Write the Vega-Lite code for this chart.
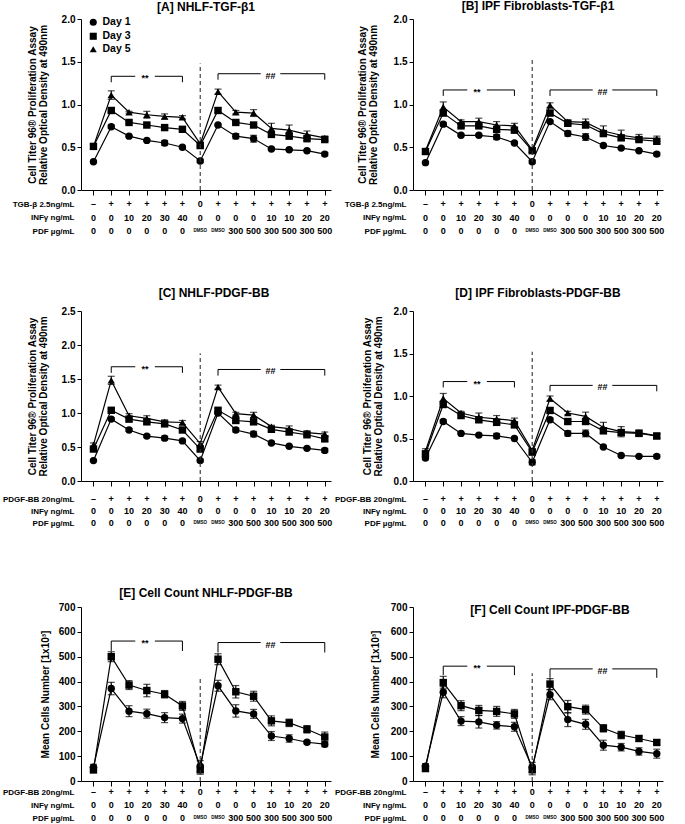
{
"$schema":"https://vega.github.io/schema/vega-lite/v6.json",
"background":"white",
"padding":{"left":2,"top":0,"right":0,"bottom":0},
"columns":2,
"bounds":"flush",
"spacing":{"row":0,"column":82},
"datasets":{
"pts":[
{"p":"A","d":"Day 1","x":1,"v":0.33,"e":0.01},{"p":"A","d":"Day 1","x":2,"v":0.74,"e":0.02},{"p":"A","d":"Day 1","x":3,"v":0.63,"e":0.01},{"p":"A","d":"Day 1","x":4,"v":0.58,"e":0.01},{"p":"A","d":"Day 1","x":5,"v":0.55,"e":0.03},{"p":"A","d":"Day 1","x":6,"v":0.50,"e":0.01},{"p":"A","d":"Day 1","x":7,"v":0.34,"e":0.02},{"p":"A","d":"Day 1","x":8,"v":0.76,"e":0.01},{"p":"A","d":"Day 1","x":9,"v":0.63,"e":0.03},{"p":"A","d":"Day 1","x":10,"v":0.60,"e":0.04},{"p":"A","d":"Day 1","x":11,"v":0.48,"e":0.01},{"p":"A","d":"Day 1","x":12,"v":0.47,"e":0.01},{"p":"A","d":"Day 1","x":13,"v":0.46,"e":0.01},{"p":"A","d":"Day 1","x":14,"v":0.42,"e":0.02},
{"p":"A","d":"Day 3","x":1,"v":0.51,"e":0.02},{"p":"A","d":"Day 3","x":2,"v":0.93,"e":0.02},{"p":"A","d":"Day 3","x":3,"v":0.79,"e":0.01},{"p":"A","d":"Day 3","x":4,"v":0.76,"e":0.01},{"p":"A","d":"Day 3","x":5,"v":0.73,"e":0.02},{"p":"A","d":"Day 3","x":6,"v":0.71,"e":0.02},{"p":"A","d":"Day 3","x":7,"v":0.52,"e":0.03},{"p":"A","d":"Day 3","x":8,"v":0.93,"e":0.03},{"p":"A","d":"Day 3","x":9,"v":0.79,"e":0.01},{"p":"A","d":"Day 3","x":10,"v":0.76,"e":0.02},{"p":"A","d":"Day 3","x":11,"v":0.65,"e":0.02},{"p":"A","d":"Day 3","x":12,"v":0.63,"e":0.03},{"p":"A","d":"Day 3","x":13,"v":0.60,"e":0.02},{"p":"A","d":"Day 3","x":14,"v":0.59,"e":0.02},
{"p":"A","d":"Day 5","x":1,"v":0.51,"e":0.02},{"p":"A","d":"Day 5","x":2,"v":1.11,"e":0.05},{"p":"A","d":"Day 5","x":3,"v":0.91,"e":0.01},{"p":"A","d":"Day 5","x":4,"v":0.88,"e":0.04},{"p":"A","d":"Day 5","x":5,"v":0.86,"e":0.03},{"p":"A","d":"Day 5","x":6,"v":0.85,"e":0.02},{"p":"A","d":"Day 5","x":7,"v":0.54,"e":0.02},{"p":"A","d":"Day 5","x":8,"v":1.15,"e":0.03},{"p":"A","d":"Day 5","x":9,"v":0.91,"e":0.02},{"p":"A","d":"Day 5","x":10,"v":0.90,"e":0.04},{"p":"A","d":"Day 5","x":11,"v":0.72,"e":0.06},{"p":"A","d":"Day 5","x":12,"v":0.70,"e":0.06},{"p":"A","d":"Day 5","x":13,"v":0.65,"e":0.04},{"p":"A","d":"Day 5","x":14,"v":0.61,"e":0.02},
{"p":"B","d":"Day 1","x":1,"v":0.32,"e":0.01},{"p":"B","d":"Day 1","x":2,"v":0.77,"e":0.02},{"p":"B","d":"Day 1","x":3,"v":0.64,"e":0.01},{"p":"B","d":"Day 1","x":4,"v":0.64,"e":0.01},{"p":"B","d":"Day 1","x":5,"v":0.62,"e":0.03},{"p":"B","d":"Day 1","x":6,"v":0.55,"e":0.01},{"p":"B","d":"Day 1","x":7,"v":0.33,"e":0.02},{"p":"B","d":"Day 1","x":8,"v":0.80,"e":0.01},{"p":"B","d":"Day 1","x":9,"v":0.66,"e":0.03},{"p":"B","d":"Day 1","x":10,"v":0.62,"e":0.04},{"p":"B","d":"Day 1","x":11,"v":0.52,"e":0.01},{"p":"B","d":"Day 1","x":12,"v":0.49,"e":0.01},{"p":"B","d":"Day 1","x":13,"v":0.46,"e":0.01},{"p":"B","d":"Day 1","x":14,"v":0.42,"e":0.02},
{"p":"B","d":"Day 3","x":1,"v":0.45,"e":0.02},{"p":"B","d":"Day 3","x":2,"v":0.90,"e":0.03},{"p":"B","d":"Day 3","x":3,"v":0.75,"e":0.02},{"p":"B","d":"Day 3","x":4,"v":0.75,"e":0.02},{"p":"B","d":"Day 3","x":5,"v":0.71,"e":0.03},{"p":"B","d":"Day 3","x":6,"v":0.70,"e":0.03},{"p":"B","d":"Day 3","x":7,"v":0.46,"e":0.02},{"p":"B","d":"Day 3","x":8,"v":0.90,"e":0.03},{"p":"B","d":"Day 3","x":9,"v":0.78,"e":0.02},{"p":"B","d":"Day 3","x":10,"v":0.76,"e":0.03},{"p":"B","d":"Day 3","x":11,"v":0.66,"e":0.02},{"p":"B","d":"Day 3","x":12,"v":0.61,"e":0.02},{"p":"B","d":"Day 3","x":13,"v":0.59,"e":0.02},{"p":"B","d":"Day 3","x":14,"v":0.57,"e":0.03},
{"p":"B","d":"Day 5","x":1,"v":0.46,"e":0.02},{"p":"B","d":"Day 5","x":2,"v":0.97,"e":0.06},{"p":"B","d":"Day 5","x":3,"v":0.80,"e":0.02},{"p":"B","d":"Day 5","x":4,"v":0.80,"e":0.04},{"p":"B","d":"Day 5","x":5,"v":0.76,"e":0.04},{"p":"B","d":"Day 5","x":6,"v":0.75,"e":0.03},{"p":"B","d":"Day 5","x":7,"v":0.47,"e":0.02},{"p":"B","d":"Day 5","x":8,"v":0.99,"e":0.03},{"p":"B","d":"Day 5","x":9,"v":0.80,"e":0.02},{"p":"B","d":"Day 5","x":10,"v":0.79,"e":0.04},{"p":"B","d":"Day 5","x":11,"v":0.69,"e":0.06},{"p":"B","d":"Day 5","x":12,"v":0.64,"e":0.06},{"p":"B","d":"Day 5","x":13,"v":0.61,"e":0.04},{"p":"B","d":"Day 5","x":14,"v":0.60,"e":0.03},
{"p":"C","d":"Day 1","x":1,"v":0.30,"e":0.01},{"p":"C","d":"Day 1","x":2,"v":0.91,"e":0.02},{"p":"C","d":"Day 1","x":3,"v":0.75,"e":0.02},{"p":"C","d":"Day 1","x":4,"v":0.66,"e":0.02},{"p":"C","d":"Day 1","x":5,"v":0.63,"e":0.03},{"p":"C","d":"Day 1","x":6,"v":0.59,"e":0.02},{"p":"C","d":"Day 1","x":7,"v":0.30,"e":0.02},{"p":"C","d":"Day 1","x":8,"v":1.00,"e":0.02},{"p":"C","d":"Day 1","x":9,"v":0.75,"e":0.03},{"p":"C","d":"Day 1","x":10,"v":0.69,"e":0.04},{"p":"C","d":"Day 1","x":11,"v":0.56,"e":0.02},{"p":"C","d":"Day 1","x":12,"v":0.51,"e":0.01},{"p":"C","d":"Day 1","x":13,"v":0.48,"e":0.01},{"p":"C","d":"Day 1","x":14,"v":0.45,"e":0.03},
{"p":"C","d":"Day 3","x":1,"v":0.47,"e":0.03},{"p":"C","d":"Day 3","x":2,"v":1.04,"e":0.02},{"p":"C","d":"Day 3","x":3,"v":0.91,"e":0.03},{"p":"C","d":"Day 3","x":4,"v":0.87,"e":0.03},{"p":"C","d":"Day 3","x":5,"v":0.84,"e":0.03},{"p":"C","d":"Day 3","x":6,"v":0.75,"e":0.03},{"p":"C","d":"Day 3","x":7,"v":0.47,"e":0.03},{"p":"C","d":"Day 3","x":8,"v":1.04,"e":0.03},{"p":"C","d":"Day 3","x":9,"v":0.89,"e":0.03},{"p":"C","d":"Day 3","x":10,"v":0.87,"e":0.03},{"p":"C","d":"Day 3","x":11,"v":0.76,"e":0.03},{"p":"C","d":"Day 3","x":12,"v":0.72,"e":0.03},{"p":"C","d":"Day 3","x":13,"v":0.68,"e":0.03},{"p":"C","d":"Day 3","x":14,"v":0.62,"e":0.04},
{"p":"C","d":"Day 5","x":1,"v":0.53,"e":0.03},{"p":"C","d":"Day 5","x":2,"v":1.48,"e":0.06},{"p":"C","d":"Day 5","x":3,"v":0.96,"e":0.03},{"p":"C","d":"Day 5","x":4,"v":0.92,"e":0.04},{"p":"C","d":"Day 5","x":5,"v":0.87,"e":0.03},{"p":"C","d":"Day 5","x":6,"v":0.86,"e":0.03},{"p":"C","d":"Day 5","x":7,"v":0.55,"e":0.03},{"p":"C","d":"Day 5","x":8,"v":1.38,"e":0.03},{"p":"C","d":"Day 5","x":9,"v":0.99,"e":0.02},{"p":"C","d":"Day 5","x":10,"v":0.97,"e":0.04},{"p":"C","d":"Day 5","x":11,"v":0.80,"e":0.02},{"p":"C","d":"Day 5","x":12,"v":0.77,"e":0.04},{"p":"C","d":"Day 5","x":13,"v":0.71,"e":0.03},{"p":"C","d":"Day 5","x":14,"v":0.69,"e":0.03},
{"p":"D","d":"Day 1","x":1,"v":0.27,"e":0.02},{"p":"D","d":"Day 1","x":2,"v":0.70,"e":0.02},{"p":"D","d":"Day 1","x":3,"v":0.56,"e":0.01},{"p":"D","d":"Day 1","x":4,"v":0.54,"e":0.01},{"p":"D","d":"Day 1","x":5,"v":0.53,"e":0.03},{"p":"D","d":"Day 1","x":6,"v":0.50,"e":0.01},{"p":"D","d":"Day 1","x":7,"v":0.22,"e":0.03},{"p":"D","d":"Day 1","x":8,"v":0.72,"e":0.02},{"p":"D","d":"Day 1","x":9,"v":0.56,"e":0.03},{"p":"D","d":"Day 1","x":10,"v":0.56,"e":0.04},{"p":"D","d":"Day 1","x":11,"v":0.40,"e":0.01},{"p":"D","d":"Day 1","x":12,"v":0.30,"e":0.01},{"p":"D","d":"Day 1","x":13,"v":0.29,"e":0.01},{"p":"D","d":"Day 1","x":14,"v":0.29,"e":0.02},
{"p":"D","d":"Day 3","x":1,"v":0.32,"e":0.02},{"p":"D","d":"Day 3","x":2,"v":0.90,"e":0.03},{"p":"D","d":"Day 3","x":3,"v":0.77,"e":0.03},{"p":"D","d":"Day 3","x":4,"v":0.72,"e":0.03},{"p":"D","d":"Day 3","x":5,"v":0.69,"e":0.03},{"p":"D","d":"Day 3","x":6,"v":0.66,"e":0.03},{"p":"D","d":"Day 3","x":7,"v":0.34,"e":0.03},{"p":"D","d":"Day 3","x":8,"v":0.83,"e":0.03},{"p":"D","d":"Day 3","x":9,"v":0.70,"e":0.02},{"p":"D","d":"Day 3","x":10,"v":0.70,"e":0.03},{"p":"D","d":"Day 3","x":11,"v":0.59,"e":0.03},{"p":"D","d":"Day 3","x":12,"v":0.57,"e":0.03},{"p":"D","d":"Day 3","x":13,"v":0.56,"e":0.03},{"p":"D","d":"Day 3","x":14,"v":0.53,"e":0.03},
{"p":"D","d":"Day 5","x":1,"v":0.35,"e":0.03},{"p":"D","d":"Day 5","x":2,"v":0.97,"e":0.06},{"p":"D","d":"Day 5","x":3,"v":0.80,"e":0.02},{"p":"D","d":"Day 5","x":4,"v":0.75,"e":0.05},{"p":"D","d":"Day 5","x":5,"v":0.73,"e":0.04},{"p":"D","d":"Day 5","x":6,"v":0.71,"e":0.03},{"p":"D","d":"Day 5","x":7,"v":0.36,"e":0.02},{"p":"D","d":"Day 5","x":8,"v":0.97,"e":0.03},{"p":"D","d":"Day 5","x":9,"v":0.80,"e":0.02},{"p":"D","d":"Day 5","x":10,"v":0.76,"e":0.05},{"p":"D","d":"Day 5","x":11,"v":0.63,"e":0.06},{"p":"D","d":"Day 5","x":12,"v":0.58,"e":0.06},{"p":"D","d":"Day 5","x":13,"v":0.57,"e":0.03},{"p":"D","d":"Day 5","x":14,"v":0.53,"e":0.02},
{"p":"E","d":"Day 1","x":1,"v":55,"e":12},{"p":"E","d":"Day 1","x":2,"v":372,"e":25},{"p":"E","d":"Day 1","x":3,"v":281,"e":22},{"p":"E","d":"Day 1","x":4,"v":271,"e":18},{"p":"E","d":"Day 1","x":5,"v":255,"e":20},{"p":"E","d":"Day 1","x":6,"v":251,"e":18},{"p":"E","d":"Day 1","x":7,"v":60,"e":22},{"p":"E","d":"Day 1","x":8,"v":383,"e":22},{"p":"E","d":"Day 1","x":9,"v":282,"e":25},{"p":"E","d":"Day 1","x":10,"v":270,"e":18},{"p":"E","d":"Day 1","x":11,"v":181,"e":18},{"p":"E","d":"Day 1","x":12,"v":171,"e":15},{"p":"E","d":"Day 1","x":13,"v":156,"e":6},{"p":"E","d":"Day 1","x":14,"v":148,"e":10},
{"p":"E","d":"Day 3","x":1,"v":45,"e":12},{"p":"E","d":"Day 3","x":2,"v":500,"e":20},{"p":"E","d":"Day 3","x":3,"v":386,"e":18},{"p":"E","d":"Day 3","x":4,"v":364,"e":25},{"p":"E","d":"Day 3","x":5,"v":349,"e":15},{"p":"E","d":"Day 3","x":6,"v":302,"e":18},{"p":"E","d":"Day 3","x":7,"v":45,"e":18},{"p":"E","d":"Day 3","x":8,"v":490,"e":22},{"p":"E","d":"Day 3","x":9,"v":359,"e":25},{"p":"E","d":"Day 3","x":10,"v":341,"e":20},{"p":"E","d":"Day 3","x":11,"v":242,"e":20},{"p":"E","d":"Day 3","x":12,"v":234,"e":15},{"p":"E","d":"Day 3","x":13,"v":208,"e":15},{"p":"E","d":"Day 3","x":14,"v":177,"e":20},
{"p":"F","d":"Day 1","x":1,"v":60,"e":10},{"p":"F","d":"Day 1","x":2,"v":357,"e":22},{"p":"F","d":"Day 1","x":3,"v":241,"e":18},{"p":"F","d":"Day 1","x":4,"v":238,"e":25},{"p":"F","d":"Day 1","x":5,"v":224,"e":15},{"p":"F","d":"Day 1","x":6,"v":218,"e":18},{"p":"F","d":"Day 1","x":7,"v":55,"e":20},{"p":"F","d":"Day 1","x":8,"v":347,"e":20},{"p":"F","d":"Day 1","x":9,"v":247,"e":28},{"p":"F","d":"Day 1","x":10,"v":228,"e":20},{"p":"F","d":"Day 1","x":11,"v":144,"e":20},{"p":"F","d":"Day 1","x":12,"v":136,"e":15},{"p":"F","d":"Day 1","x":13,"v":119,"e":15},{"p":"F","d":"Day 1","x":14,"v":110,"e":18},
{"p":"F","d":"Day 3","x":1,"v":50,"e":10},{"p":"F","d":"Day 3","x":2,"v":396,"e":25},{"p":"F","d":"Day 3","x":3,"v":303,"e":20},{"p":"F","d":"Day 3","x":4,"v":284,"e":20},{"p":"F","d":"Day 3","x":5,"v":280,"e":20},{"p":"F","d":"Day 3","x":6,"v":270,"e":18},{"p":"F","d":"Day 3","x":7,"v":45,"e":20},{"p":"F","d":"Day 3","x":8,"v":390,"e":22},{"p":"F","d":"Day 3","x":9,"v":299,"e":25},{"p":"F","d":"Day 3","x":10,"v":287,"e":18},{"p":"F","d":"Day 3","x":11,"v":212,"e":15},{"p":"F","d":"Day 3","x":12,"v":185,"e":15},{"p":"F","d":"Day 3","x":13,"v":171,"e":10},{"p":"F","d":"Day 3","x":14,"v":155,"e":10}
],
"vl":[{"p":"A","x":7,"v":0,"v2":1.48},{"p":"B","x":7,"v":0,"v2":1.54},{"p":"C","x":7,"v":0,"v2":1.88},{"p":"D","x":7,"v":0,"v2":1.52},{"p":"E","x":7,"v":0,"v2":412},{"p":"F","x":7,"v":0,"v2":433}],
"brh":[
{"p":"A","x":2,"x2":3.35,"v":1.33},{"p":"A","x":4.45,"x2":6,"v":1.33},{"p":"A","x":8,"x2":10.4,"v":1.36},{"p":"A","x":11.5,"x2":14,"v":1.36},
{"p":"B","x":2,"x2":3.35,"v":1.17},{"p":"B","x":4.45,"x2":6,"v":1.17},{"p":"B","x":8,"x2":10.4,"v":1.17},{"p":"B","x":11.5,"x2":14,"v":1.17},
{"p":"C","x":2,"x2":3.35,"v":1.68},{"p":"C","x":4.45,"x2":6,"v":1.68},{"p":"C","x":8,"x2":10.4,"v":1.64},{"p":"C","x":11.5,"x2":14,"v":1.64},
{"p":"D","x":2,"x2":3.35,"v":1.17},{"p":"D","x":4.45,"x2":6,"v":1.17},{"p":"D","x":8,"x2":10.4,"v":1.125},{"p":"D","x":11.5,"x2":14,"v":1.125},
{"p":"E","x":2,"x2":3.35,"v":563},{"p":"E","x":4.45,"x2":6,"v":563},{"p":"E","x":8,"x2":10.4,"v":557},{"p":"E","x":11.5,"x2":14,"v":557},
{"p":"F","x":2,"x2":3.35,"v":462},{"p":"F","x":4.45,"x2":6,"v":462},{"p":"F","x":8,"x2":10.4,"v":451},{"p":"F","x":11.5,"x2":14,"v":451}
],
"brt":[
{"p":"A","x":2,"v":1.33,"v2":1.26},{"p":"A","x":6,"v":1.33,"v2":1.26},{"p":"A","x":8,"v":1.36,"v2":1.29},{"p":"A","x":14,"v":1.36,"v2":1.29},
{"p":"B","x":2,"v":1.17,"v2":1.10},{"p":"B","x":6,"v":1.17,"v2":1.10},{"p":"B","x":8,"v":1.17,"v2":1.10},{"p":"B","x":14,"v":1.17,"v2":1.10},
{"p":"C","x":2,"v":1.68,"v2":1.59},{"p":"C","x":6,"v":1.68,"v2":1.59},{"p":"C","x":8,"v":1.64,"v2":1.55},{"p":"C","x":14,"v":1.64,"v2":1.55},
{"p":"D","x":2,"v":1.17,"v2":1.10},{"p":"D","x":6,"v":1.17,"v2":1.10},{"p":"D","x":8,"v":1.125,"v2":1.055},{"p":"D","x":14,"v":1.125,"v2":1.055},
{"p":"E","x":2,"v":563,"v2":523},{"p":"E","x":6,"v":563,"v2":523},{"p":"E","x":8,"v":557,"v2":517},{"p":"E","x":14,"v":557,"v2":517},
{"p":"F","x":2,"v":462,"v2":426},{"p":"F","x":6,"v":462,"v2":426},{"p":"F","x":8,"v":451,"v2":415},{"p":"F","x":14,"v":451,"v2":415}
],
"brl":[
{"p":"A","x":3.9,"v":1.33,"t":"**"},{"p":"A","x":10.95,"v":1.36,"t":"##"},
{"p":"B","x":3.9,"v":1.17,"t":"**"},{"p":"B","x":10.95,"v":1.17,"t":"##"},
{"p":"C","x":3.9,"v":1.68,"t":"**"},{"p":"C","x":10.95,"v":1.64,"t":"##"},
{"p":"D","x":3.9,"v":1.17,"t":"**"},{"p":"D","x":10.95,"v":1.125,"t":"##"},
{"p":"E","x":3.9,"v":563,"t":"**"},{"p":"E","x":10.95,"v":557,"t":"##"},
{"p":"F","x":3.9,"v":462,"t":"**"},{"p":"F","x":10.95,"v":451,"t":"##"}
],
"cond":[
{"g":"TGF","r":"TGB-β 2.5ng/mL","x":1,"t":"–"},{"g":"TGF","r":"TGB-β 2.5ng/mL","x":2,"t":"+"},{"g":"TGF","r":"TGB-β 2.5ng/mL","x":3,"t":"+"},{"g":"TGF","r":"TGB-β 2.5ng/mL","x":4,"t":"+"},{"g":"TGF","r":"TGB-β 2.5ng/mL","x":5,"t":"+"},{"g":"TGF","r":"TGB-β 2.5ng/mL","x":6,"t":"+"},{"g":"TGF","r":"TGB-β 2.5ng/mL","x":7,"t":"0"},{"g":"TGF","r":"TGB-β 2.5ng/mL","x":8,"t":"+"},{"g":"TGF","r":"TGB-β 2.5ng/mL","x":9,"t":"+"},{"g":"TGF","r":"TGB-β 2.5ng/mL","x":10,"t":"+"},{"g":"TGF","r":"TGB-β 2.5ng/mL","x":11,"t":"+"},{"g":"TGF","r":"TGB-β 2.5ng/mL","x":12,"t":"+"},{"g":"TGF","r":"TGB-β 2.5ng/mL","x":13,"t":"+"},{"g":"TGF","r":"TGB-β 2.5ng/mL","x":14,"t":"+"},
{"g":"PDGF","r":"PDGF-BB 20ng/mL","x":1,"t":"–"},{"g":"PDGF","r":"PDGF-BB 20ng/mL","x":2,"t":"+"},{"g":"PDGF","r":"PDGF-BB 20ng/mL","x":3,"t":"+"},{"g":"PDGF","r":"PDGF-BB 20ng/mL","x":4,"t":"+"},{"g":"PDGF","r":"PDGF-BB 20ng/mL","x":5,"t":"+"},{"g":"PDGF","r":"PDGF-BB 20ng/mL","x":6,"t":"+"},{"g":"PDGF","r":"PDGF-BB 20ng/mL","x":7,"t":"0"},{"g":"PDGF","r":"PDGF-BB 20ng/mL","x":8,"t":"+"},{"g":"PDGF","r":"PDGF-BB 20ng/mL","x":9,"t":"+"},{"g":"PDGF","r":"PDGF-BB 20ng/mL","x":10,"t":"+"},{"g":"PDGF","r":"PDGF-BB 20ng/mL","x":11,"t":"+"},{"g":"PDGF","r":"PDGF-BB 20ng/mL","x":12,"t":"+"},{"g":"PDGF","r":"PDGF-BB 20ng/mL","x":13,"t":"+"},{"g":"PDGF","r":"PDGF-BB 20ng/mL","x":14,"t":"+"},
{"g":"all","r":"INFγ ng/mL","x":1,"t":"0"},{"g":"all","r":"INFγ ng/mL","x":2,"t":"0"},{"g":"all","r":"INFγ ng/mL","x":3,"t":"10"},{"g":"all","r":"INFγ ng/mL","x":4,"t":"20"},{"g":"all","r":"INFγ ng/mL","x":5,"t":"30"},{"g":"all","r":"INFγ ng/mL","x":6,"t":"40"},{"g":"all","r":"INFγ ng/mL","x":7,"t":"0"},{"g":"all","r":"INFγ ng/mL","x":8,"t":"0"},{"g":"all","r":"INFγ ng/mL","x":9,"t":"0"},{"g":"all","r":"INFγ ng/mL","x":10,"t":"0"},{"g":"all","r":"INFγ ng/mL","x":11,"t":"10"},{"g":"all","r":"INFγ ng/mL","x":12,"t":"10"},{"g":"all","r":"INFγ ng/mL","x":13,"t":"20"},{"g":"all","r":"INFγ ng/mL","x":14,"t":"20"},
{"g":"all","r":"PDF µg/mL","x":1,"t":"0"},{"g":"all","r":"PDF µg/mL","x":2,"t":"0"},{"g":"all","r":"PDF µg/mL","x":3,"t":"0"},{"g":"all","r":"PDF µg/mL","x":4,"t":"0"},{"g":"all","r":"PDF µg/mL","x":5,"t":"0"},{"g":"all","r":"PDF µg/mL","x":6,"t":"0"},{"g":"all","r":"PDF µg/mL","x":7,"t":"DMSO"},{"g":"all","r":"PDF µg/mL","x":8,"t":"DMSO"},{"g":"all","r":"PDF µg/mL","x":9,"t":"300"},{"g":"all","r":"PDF µg/mL","x":10,"t":"500"},{"g":"all","r":"PDF µg/mL","x":11,"t":"300"},{"g":"all","r":"PDF µg/mL","x":12,"t":"500"},{"g":"all","r":"PDF µg/mL","x":13,"t":"300"},{"g":"all","r":"PDF µg/mL","x":14,"t":"500"}
]
},
"concat":[
{"title":{"text":"[A] NHLF-TGF-β1","offset":0},"width":250,"height":171,
"encoding":{"x":{"field":"x","type":"quantitative","scale":{"domain":[0.3,14.35],"nice":false,"zero":false},"axis":{"values":[1,2,3,4,5,6,7,8,9,10,11,12,13,14],"labels":false,"title":null,"tickSize":5}},
"y":{"field":"v","type":"quantitative","scale":{"domain":[0,2],"nice":false},"axis":{"values":[0,0.5,1,1.5,2],"format":".1f","title":["Cell Titer 96® Proliferation Assay","Relative Optical Density at  490nm"],"titlePadding":13}}},
"layer":[
{"data":{"name":"pts"},"transform":[{"filter":"datum.p==='A'"}],"mark":{"type":"line","color":"black","strokeWidth":1.2},"encoding":{"detail":{"field":"d"}}},
{"data":{"name":"pts"},"transform":[{"filter":"datum.p==='A'"}],"mark":{"type":"errorbar","ticks":true,"color":"black","size":7,"thickness":1.2},"encoding":{"yError":{"field":"e"}}},
{"data":{"name":"pts"},"transform":[{"filter":"datum.p==='A'"}],"mark":{"type":"point","filled":true,"color":"black","opacity":1,"size":55},"encoding":{"shape":{"field":"d","type":"nominal","scale":{"domain":["Day 1","Day 3","Day 5"],"range":["circle","square","triangle-up"]},"legend":{"title":null,"orient":"none","direction":"vertical","legendX":7,"legendY":-2,"rowPadding":0}}}},
{"data":{"name":"vl"},"transform":[{"filter":"datum.p==='A'"}],"mark":{"type":"rule","color":"#333","strokeDash":[4,3],"strokeWidth":1.1},"encoding":{"y2":{"field":"v2"}}},
{"data":{"name":"brh"},"transform":[{"filter":"datum.p==='A'"}],"mark":{"type":"rule","color":"black","strokeWidth":1},"encoding":{"x2":{"field":"x2"}}},
{"data":{"name":"brt"},"transform":[{"filter":"datum.p==='A'"}],"mark":{"type":"rule","color":"black","strokeWidth":1},"encoding":{"y2":{"field":"v2"}}},
{"data":{"name":"brl"},"transform":[{"filter":"datum.p==='A'"}],"mark":{"type":"text","fontSize":9,"baseline":"middle","dy":2,"color":"black"},"encoding":{"text":{"field":"t"}}}
]},
{"title":{"text":"[B] IPF Fibroblasts-TGF-β1","offset":1},"width":250,"height":171,
"encoding":{"x":{"field":"x","type":"quantitative","scale":{"domain":[0.3,14.35],"nice":false,"zero":false},"axis":{"values":[1,2,3,4,5,6,7,8,9,10,11,12,13,14],"labels":false,"title":null,"tickSize":5}},
"y":{"field":"v","type":"quantitative","scale":{"domain":[0,2],"nice":false},"axis":{"values":[0,0.5,1,1.5,2],"format":".1f","title":["Cell Titer 96® Proliferation Assay","Relative Optical Density at  490nm"],"titlePadding":15}}},
"layer":[
{"data":{"name":"pts"},"transform":[{"filter":"datum.p==='B'"}],"mark":{"type":"line","color":"black","strokeWidth":1.2},"encoding":{"detail":{"field":"d"}}},
{"data":{"name":"pts"},"transform":[{"filter":"datum.p==='B'"}],"mark":{"type":"errorbar","ticks":true,"color":"black","size":7,"thickness":1.2},"encoding":{"yError":{"field":"e"}}},
{"data":{"name":"pts"},"transform":[{"filter":"datum.p==='B'"}],"mark":{"type":"point","filled":true,"color":"black","opacity":1,"size":55},"encoding":{"shape":{"field":"d","type":"nominal","scale":{"domain":["Day 1","Day 3","Day 5"],"range":["circle","square","triangle-up"]},"legend":{"title":null,"orient":"none","direction":"vertical","legendX":7,"legendY":-2,"rowPadding":1}}}},
{"data":{"name":"vl"},"transform":[{"filter":"datum.p==='B'"}],"mark":{"type":"rule","color":"#333","strokeDash":[4,3],"strokeWidth":1.1},"encoding":{"y2":{"field":"v2"}}},
{"data":{"name":"brh"},"transform":[{"filter":"datum.p==='B'"}],"mark":{"type":"rule","color":"black","strokeWidth":1},"encoding":{"x2":{"field":"x2"}}},
{"data":{"name":"brt"},"transform":[{"filter":"datum.p==='B'"}],"mark":{"type":"rule","color":"black","strokeWidth":1},"encoding":{"y2":{"field":"v2"}}},
{"data":{"name":"brl"},"transform":[{"filter":"datum.p==='B'"}],"mark":{"type":"text","fontSize":9,"baseline":"middle","dy":2,"color":"black"},"encoding":{"text":{"field":"t"}}}
]},
{"width":250,"height":121,"data":{"name":"cond"},"transform":[{"filter":"datum.g==='all'||datum.g==='TGF'"}],"mark":{"type":"text","color":"black"},
"encoding":{"x":{"field":"x","type":"quantitative","scale":{"domain":[0.3,14.35],"nice":false,"zero":false},"axis":null},
"y":{"field":"r","type":"nominal","scale":{"type":"point","domain":["TGB-β 2.5ng/mL","INFγ ng/mL","PDF µg/mL"],"range":[14,41],"padding":0},"axis":{"title":null,"domain":false,"ticks":false,"labelPadding":7,"labelFontSize":8}},
"text":{"field":"t"},"size":{"condition":{"test":"datum.t==='DMSO'","value":4.5},"value":9}}},
{"width":250,"height":121,"data":{"name":"cond"},"transform":[{"filter":"datum.g==='all'||datum.g==='TGF'"}],"mark":{"type":"text","color":"black"},
"encoding":{"x":{"field":"x","type":"quantitative","scale":{"domain":[0.3,14.35],"nice":false,"zero":false},"axis":null},
"y":{"field":"r","type":"nominal","scale":{"type":"point","domain":["TGB-β 2.5ng/mL","INFγ ng/mL","PDF µg/mL"],"range":[14,41],"padding":0},"axis":{"title":null,"domain":false,"ticks":false,"labelPadding":7,"labelFontSize":8}},
"text":{"field":"t"},"size":{"condition":{"test":"datum.t==='DMSO'","value":4.5},"value":9}}},
{"title":{"text":"[C] NHLF-PDGF-BB","dx":8,"offset":6},"width":250,"height":170,
"encoding":{"x":{"field":"x","type":"quantitative","scale":{"domain":[0.3,14.35],"nice":false,"zero":false},"axis":{"values":[1,2,3,4,5,6,7,8,9,10,11,12,13,14],"labels":false,"title":null,"tickSize":5}},
"y":{"field":"v","type":"quantitative","scale":{"domain":[0,2.5],"nice":false},"axis":{"values":[0,0.5,1,1.5,2,2.5],"format":".1f","title":["Cell Titer 96® Proliferation Assay","Relative Optical Density at  490nm"],"titlePadding":13}}},
"layer":[
{"data":{"name":"pts"},"transform":[{"filter":"datum.p==='C'"}],"mark":{"type":"line","color":"black","strokeWidth":1.2},"encoding":{"detail":{"field":"d"}}},
{"data":{"name":"pts"},"transform":[{"filter":"datum.p==='C'"}],"mark":{"type":"errorbar","ticks":true,"color":"black","size":7,"thickness":1.2},"encoding":{"yError":{"field":"e"}}},
{"data":{"name":"pts"},"transform":[{"filter":"datum.p==='C'"}],"mark":{"type":"point","filled":true,"color":"black","opacity":1,"size":55},"encoding":{"shape":{"field":"d","type":"nominal","scale":{"domain":["Day 1","Day 3","Day 5"],"range":["circle","square","triangle-up"]},"legend":{"title":null,"orient":"none","direction":"vertical","legendX":7,"legendY":-3,"rowPadding":1}}}},
{"data":{"name":"vl"},"transform":[{"filter":"datum.p==='C'"}],"mark":{"type":"rule","color":"#333","strokeDash":[4,3],"strokeWidth":1.1},"encoding":{"y2":{"field":"v2"}}},
{"data":{"name":"brh"},"transform":[{"filter":"datum.p==='C'"}],"mark":{"type":"rule","color":"black","strokeWidth":1},"encoding":{"x2":{"field":"x2"}}},
{"data":{"name":"brt"},"transform":[{"filter":"datum.p==='C'"}],"mark":{"type":"rule","color":"black","strokeWidth":1},"encoding":{"y2":{"field":"v2"}}},
{"data":{"name":"brl"},"transform":[{"filter":"datum.p==='C'"}],"mark":{"type":"text","fontSize":9,"baseline":"middle","dy":2,"color":"black"},"encoding":{"text":{"field":"t"}}}
]},
{"title":{"text":"[D] IPF Fibroblasts-PDGF-BB","offset":6},"width":250,"height":170,
"encoding":{"x":{"field":"x","type":"quantitative","scale":{"domain":[0.3,14.35],"nice":false,"zero":false},"axis":{"values":[1,2,3,4,5,6,7,8,9,10,11,12,13,14],"labels":false,"title":null,"tickSize":5}},
"y":{"field":"v","type":"quantitative","scale":{"domain":[0,2],"nice":false},"axis":{"values":[0,0.5,1,1.5,2],"format":".1f","title":["Cell Titer 96® Proliferation Assay","Relative Optical Density at  490nm"],"titlePadding":10}}},
"layer":[
{"data":{"name":"pts"},"transform":[{"filter":"datum.p==='D'"}],"mark":{"type":"line","color":"black","strokeWidth":1.2},"encoding":{"detail":{"field":"d"}}},
{"data":{"name":"pts"},"transform":[{"filter":"datum.p==='D'"}],"mark":{"type":"errorbar","ticks":true,"color":"black","size":7,"thickness":1.2},"encoding":{"yError":{"field":"e"}}},
{"data":{"name":"pts"},"transform":[{"filter":"datum.p==='D'"}],"mark":{"type":"point","filled":true,"color":"black","opacity":1,"size":55},"encoding":{"shape":{"field":"d","type":"nominal","scale":{"domain":["Day 1","Day 3","Day 5"],"range":["circle","square","triangle-up"]},"legend":{"title":null,"orient":"none","direction":"vertical","legendX":7,"legendY":-3,"rowPadding":1}}}},
{"data":{"name":"vl"},"transform":[{"filter":"datum.p==='D'"}],"mark":{"type":"rule","color":"#333","strokeDash":[4,3],"strokeWidth":1.1},"encoding":{"y2":{"field":"v2"}}},
{"data":{"name":"brh"},"transform":[{"filter":"datum.p==='D'"}],"mark":{"type":"rule","color":"black","strokeWidth":1},"encoding":{"x2":{"field":"x2"}}},
{"data":{"name":"brt"},"transform":[{"filter":"datum.p==='D'"}],"mark":{"type":"rule","color":"black","strokeWidth":1},"encoding":{"y2":{"field":"v2"}}},
{"data":{"name":"brl"},"transform":[{"filter":"datum.p==='D'"}],"mark":{"type":"text","fontSize":9,"baseline":"middle","dy":2,"color":"black"},"encoding":{"text":{"field":"t"}}}
]},
{"width":250,"height":126,"data":{"name":"cond"},"transform":[{"filter":"datum.g==='all'||datum.g==='PDGF'"}],"mark":{"type":"text","color":"black"},
"encoding":{"x":{"field":"x","type":"quantitative","scale":{"domain":[0.3,14.35],"nice":false,"zero":false},"axis":null},
"y":{"field":"r","type":"nominal","scale":{"type":"point","domain":["PDGF-BB 20ng/mL","INFγ ng/mL","PDF µg/mL"],"range":[18,42],"padding":0},"axis":{"title":null,"domain":false,"ticks":false,"labelPadding":7,"labelFontSize":8}},
"text":{"field":"t"},"size":{"condition":{"test":"datum.t==='DMSO'","value":4.5},"value":9}}},
{"width":250,"height":126,"data":{"name":"cond"},"transform":[{"filter":"datum.g==='all'||datum.g==='PDGF'"}],"mark":{"type":"text","color":"black"},
"encoding":{"x":{"field":"x","type":"quantitative","scale":{"domain":[0.3,14.35],"nice":false,"zero":false},"axis":null},
"y":{"field":"r","type":"nominal","scale":{"type":"point","domain":["PDGF-BB 20ng/mL","INFγ ng/mL","PDF µg/mL"],"range":[18,42],"padding":0},"axis":{"title":null,"domain":false,"ticks":false,"labelPadding":7,"labelFontSize":8}},
"text":{"field":"t"},"size":{"condition":{"test":"datum.t==='DMSO'","value":4.5},"value":9}}},
{"title":{"text":"[E] Cell Count NHLF-PDGF-BB","offset":2},"width":250,"height":174,
"encoding":{"x":{"field":"x","type":"quantitative","scale":{"domain":[0.3,14.35],"nice":false,"zero":false},"axis":{"values":[1,2,3,4,5,6,7,8,9,10,11,12,13,14],"labels":false,"title":null,"tickSize":5}},
"y":{"field":"v","type":"quantitative","scale":{"domain":[0,700],"nice":false},"axis":{"values":[0,100,200,300,400,500,600,700],"format":"d","title":"Mean Cells Number [1x10³]","titlePadding":8}}},
"layer":[
{"data":{"name":"pts"},"transform":[{"filter":"datum.p==='E'"}],"mark":{"type":"line","color":"black","strokeWidth":1.2},"encoding":{"detail":{"field":"d"}}},
{"data":{"name":"pts"},"transform":[{"filter":"datum.p==='E'"}],"mark":{"type":"errorbar","ticks":true,"color":"black","size":7,"thickness":1.2},"encoding":{"yError":{"field":"e"}}},
{"data":{"name":"pts"},"transform":[{"filter":"datum.p==='E'"}],"mark":{"type":"point","filled":true,"color":"black","opacity":1,"size":55},"encoding":{"shape":{"field":"d","type":"nominal","scale":{"domain":["Day 1","Day 3"],"range":["circle","square"]},"legend":{"title":null,"orient":"none","direction":"vertical","legendX":7,"legendY":1,"rowPadding":4}}}},
{"data":{"name":"vl"},"transform":[{"filter":"datum.p==='E'"}],"mark":{"type":"rule","color":"#333","strokeDash":[4,3],"strokeWidth":1.1},"encoding":{"y2":{"field":"v2"}}},
{"data":{"name":"brh"},"transform":[{"filter":"datum.p==='E'"}],"mark":{"type":"rule","color":"black","strokeWidth":1},"encoding":{"x2":{"field":"x2"}}},
{"data":{"name":"brt"},"transform":[{"filter":"datum.p==='E'"}],"mark":{"type":"rule","color":"black","strokeWidth":1},"encoding":{"y2":{"field":"v2"}}},
{"data":{"name":"brl"},"transform":[{"filter":"datum.p==='E'"}],"mark":{"type":"text","fontSize":9,"baseline":"middle","dy":2,"color":"black"},"encoding":{"text":{"field":"t"}}}
]},
{"title":{"text":"[F] Cell Count IPF-PDGF-BB","offset":-15,"dx":12},"width":250,"height":174,
"encoding":{"x":{"field":"x","type":"quantitative","scale":{"domain":[0.3,14.35],"nice":false,"zero":false},"axis":{"values":[1,2,3,4,5,6,7,8,9,10,11,12,13,14],"labels":false,"title":null,"tickSize":5}},
"y":{"field":"v","type":"quantitative","scale":{"domain":[0,700],"nice":false},"axis":{"values":[0,100,200,300,400,500,600,700],"format":"d","title":"Mean Cells Number [1x10³]","titlePadding":10}}},
"layer":[
{"data":{"name":"pts"},"transform":[{"filter":"datum.p==='F'"}],"mark":{"type":"line","color":"black","strokeWidth":1.2},"encoding":{"detail":{"field":"d"}}},
{"data":{"name":"pts"},"transform":[{"filter":"datum.p==='F'"}],"mark":{"type":"errorbar","ticks":true,"color":"black","size":7,"thickness":1.2},"encoding":{"yError":{"field":"e"}}},
{"data":{"name":"pts"},"transform":[{"filter":"datum.p==='F'"}],"mark":{"type":"point","filled":true,"color":"black","opacity":1,"size":55},"encoding":{"shape":{"field":"d","type":"nominal","scale":{"domain":["Day 1","Day 3"],"range":["circle","square"]},"legend":{"title":null,"orient":"none","direction":"vertical","legendX":7,"legendY":21,"rowPadding":1}}}},
{"data":{"name":"vl"},"transform":[{"filter":"datum.p==='F'"}],"mark":{"type":"rule","color":"#333","strokeDash":[4,3],"strokeWidth":1.1},"encoding":{"y2":{"field":"v2"}}},
{"data":{"name":"brh"},"transform":[{"filter":"datum.p==='F'"}],"mark":{"type":"rule","color":"black","strokeWidth":1},"encoding":{"x2":{"field":"x2"}}},
{"data":{"name":"brt"},"transform":[{"filter":"datum.p==='F'"}],"mark":{"type":"rule","color":"black","strokeWidth":1},"encoding":{"y2":{"field":"v2"}}},
{"data":{"name":"brl"},"transform":[{"filter":"datum.p==='F'"}],"mark":{"type":"text","fontSize":9,"baseline":"middle","dy":2,"color":"black"},"encoding":{"text":{"field":"t"}}}
]},
{"width":250,"height":45,"data":{"name":"cond"},"transform":[{"filter":"datum.g==='all'||datum.g==='PDGF'"}],"mark":{"type":"text","color":"black"},
"encoding":{"x":{"field":"x","type":"quantitative","scale":{"domain":[0.3,14.35],"nice":false,"zero":false},"axis":null},
"y":{"field":"r","type":"nominal","scale":{"type":"point","domain":["PDGF-BB 20ng/mL","INFγ ng/mL","PDF µg/mL"],"range":[11,37],"padding":0},"axis":{"title":null,"domain":false,"ticks":false,"labelPadding":7,"labelFontSize":8}},
"text":{"field":"t"},"size":{"condition":{"test":"datum.t==='DMSO'","value":4.5},"value":9}}},
{"width":250,"height":45,"data":{"name":"cond"},"transform":[{"filter":"datum.g==='all'||datum.g==='PDGF'"}],"mark":{"type":"text","color":"black"},
"encoding":{"x":{"field":"x","type":"quantitative","scale":{"domain":[0.3,14.35],"nice":false,"zero":false},"axis":null},
"y":{"field":"r","type":"nominal","scale":{"type":"point","domain":["PDGF-BB 20ng/mL","INFγ ng/mL","PDF µg/mL"],"range":[11,37],"padding":0},"axis":{"title":null,"domain":false,"ticks":false,"labelPadding":7,"labelFontSize":8}},
"text":{"field":"t"},"size":{"condition":{"test":"datum.t==='DMSO'","value":4.5},"value":9}}}
],
"config":{
"view":{"stroke":null},
"font":"Liberation Sans",
"axis":{"grid":false,"domainColor":"black","tickColor":"black","labelColor":"black","titleColor":"black","labelFont":"Liberation Sans","labelFontWeight":"bold","labelFontSize":10,"titleFont":"Liberation Sans","titleFontWeight":"bold","titleFontSize":10,"titleLineHeight":11,"tickSize":4,"labelPadding":2},
"legend":{"labelFont":"Liberation Sans","labelFontSize":10.5,"labelFontWeight":"bold","labelColor":"black","symbolSize":50,"padding":0,"labelOffset":4},
"title":{"font":"Liberation Sans","fontSize":12,"fontWeight":"bold","color":"black"},
"text":{"font":"Liberation Sans","fontWeight":"bold","fontSize":9,"color":"black"}
}
}
